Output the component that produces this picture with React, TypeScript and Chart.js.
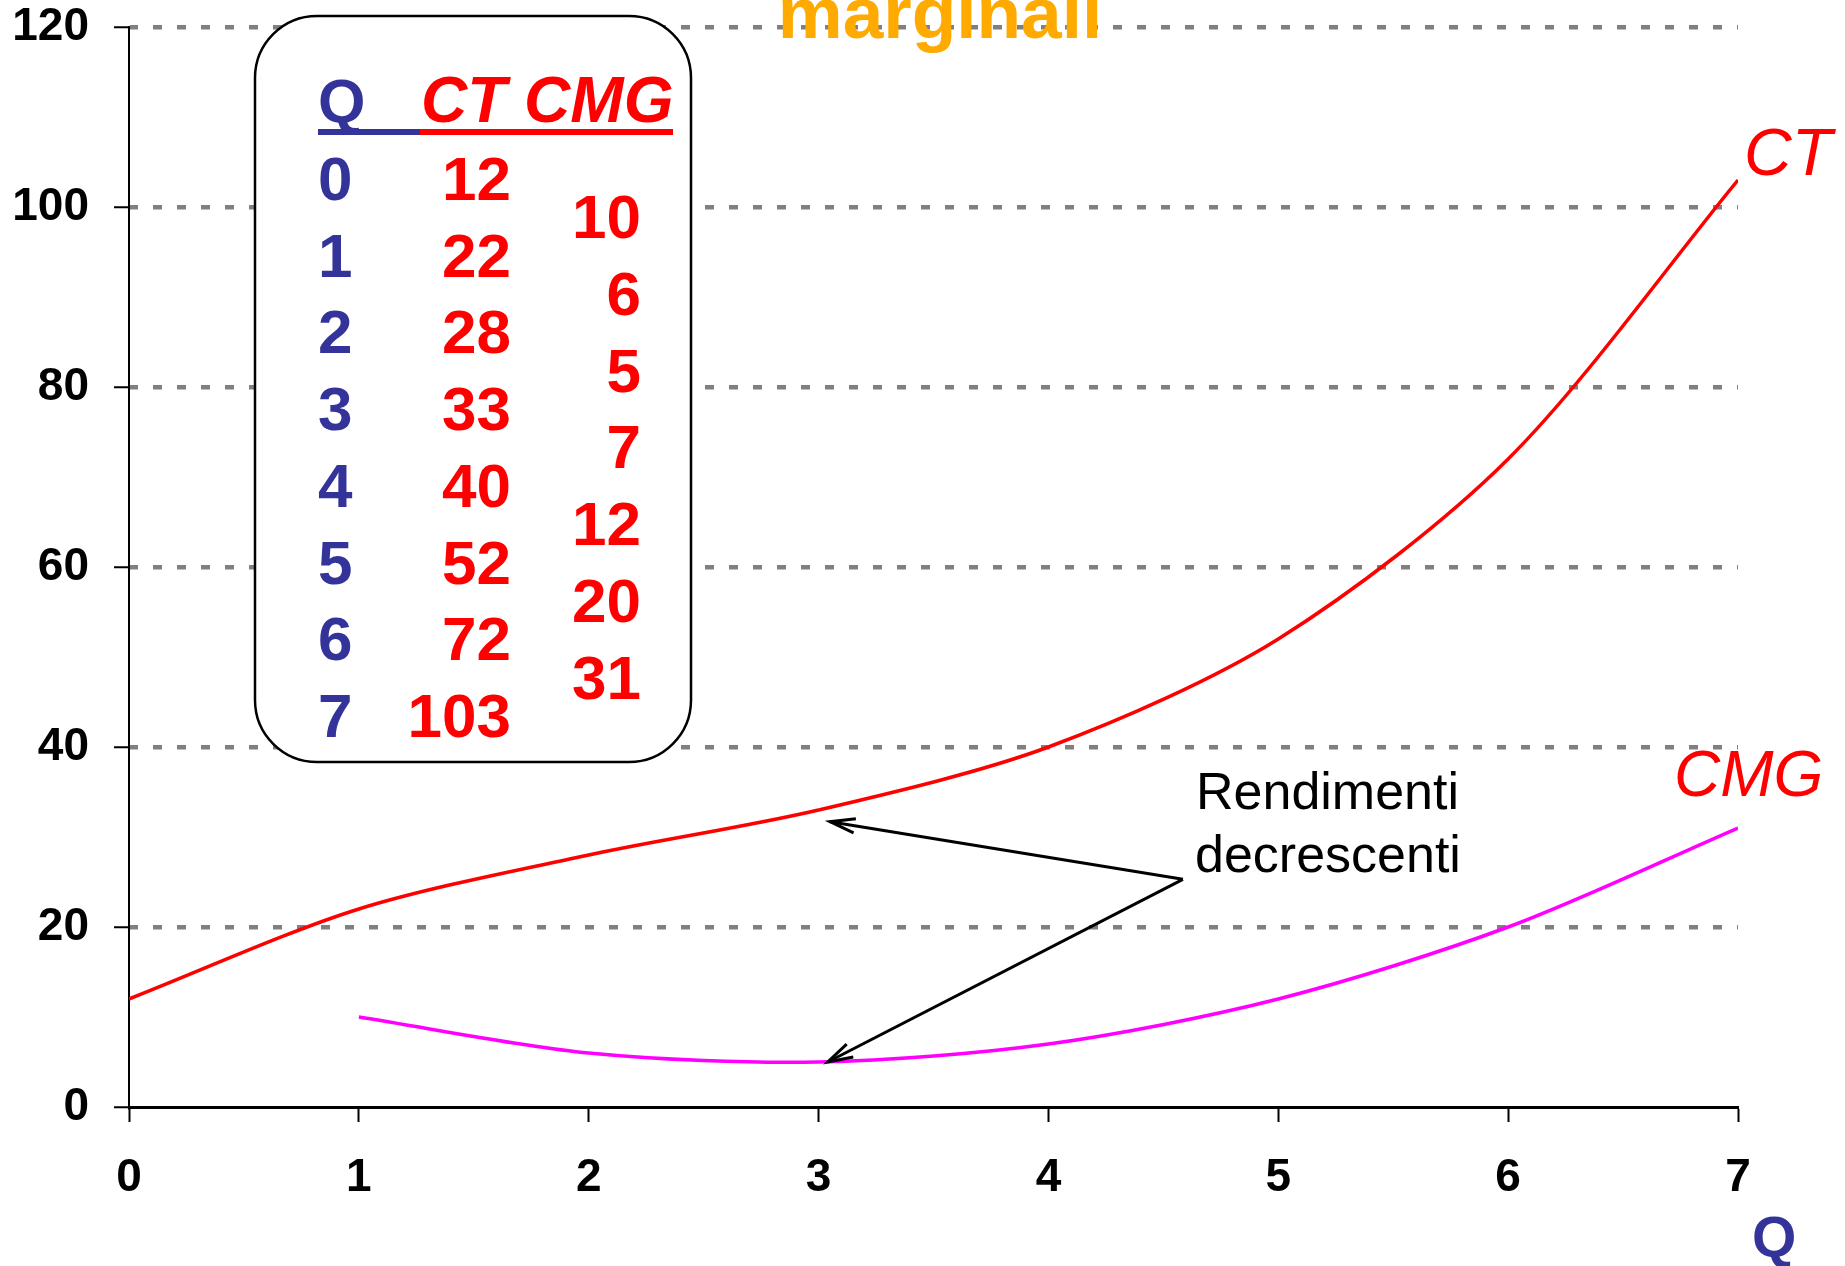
import React, { useEffect, useRef } from "react";
import { Chart, registerables } from "chart.js";

Chart.register(...registerables);

// ---- data ----
const Q = [0, 1, 2, 3, 4, 5, 6, 7];
const CT = [12, 22, 28, 33, 40, 52, 72, 103];
const CMG_Q = [1, 2, 3, 4, 5, 6, 7];
const CMG = [10, 6, 5, 7, 12, 20, 31];
const Y_MIN = 0;
const Y_MAX = 120;
const Y_STEP = 20;
const X_MIN = 0;
const X_MAX = 7;
const TITLE = "marginali";
const NOTE_LINES = ["Rendimenti", "decrescenti"];
const ARROW_FROM = { x: 4.585, y: 25.3 };
const ARROW_TIPS = [
  { x: 3.05, y: 31.7 },
  { x: 3.04, y: 5.0 },
];
const HEAD_Q = "Q";
const HEAD_CT_CMG = "CT CMG";
const LABEL_CT = "CT";
const LABEL_CMG = "CMG";
const AXIS_TITLE = "Q";

const FONT = '"Liberation Sans", Arial, Helvetica, sans-serif';
const RED = "#FF0000";
const MAGENTA = "#FF00FF";
const BLUE = "#333399";
const ORANGE = "#FFAA00";
const GRID = "#808080";

function drawArrow(ctx: CanvasRenderingContext2D, x0: number, y0: number, x1: number, y1: number) {
  ctx.beginPath();
  ctx.moveTo(x0, y0);
  ctx.lineTo(x1, y1);
  ctx.stroke();
  const ang = Math.atan2(y0 - y1, x0 - x1);
  const len = 26;
  const spread = (16 * Math.PI) / 180;
  ctx.beginPath();
  ctx.moveTo(x1 + len * Math.cos(ang - spread), y1 + len * Math.sin(ang - spread));
  ctx.lineTo(x1, y1);
  ctx.lineTo(x1 + len * Math.cos(ang + spread), y1 + len * Math.sin(ang + spread));
  ctx.stroke();
}

const overlayPlugin = {
  id: "overlay",
  afterDraw(chart: any) {
    const ctx: CanvasRenderingContext2D = chart.ctx;
    const xs = chart.scales.x;
    const ys = chart.scales.y;
    ctx.save();

    // title (partially cut at the top)
    ctx.fillStyle = ORANGE;
    ctx.font = `bold 73px ${FONT}`;
    ctx.textAlign = "center";
    ctx.textBaseline = "alphabetic";
    ctx.fillText(TITLE, 940, 38);

    // table box
    ctx.beginPath();
    (ctx as any).roundRect(255, 16, 436, 746, 62);
    ctx.fillStyle = "#ffffff";
    ctx.fill();
    ctx.lineWidth = 2.5;
    ctx.strokeStyle = "#000000";
    ctx.stroke();

    // header
    ctx.textAlign = "left";
    ctx.fillStyle = BLUE;
    ctx.font = `bold 61px ${FONT}`;
    ctx.fillText(HEAD_Q, 318, 122);
    ctx.fillStyle = RED;
    ctx.font = `italic bold 64px ${FONT}`;
    ctx.fillText(HEAD_CT_CMG, 421, 122);
    ctx.fillStyle = BLUE;
    ctx.fillRect(318, 129, 102, 6);
    ctx.fillStyle = RED;
    ctx.fillRect(420, 129, 253, 6);

    // rows
    const rowH = 76.7;
    const base0 = 200;
    ctx.font = `bold 62px ${FONT}`;
    Q.forEach((q, i) => {
      ctx.textAlign = "left";
      ctx.fillStyle = BLUE;
      ctx.fillText(String(q), 318, base0 + rowH * i);
      ctx.textAlign = "right";
      ctx.fillStyle = RED;
      ctx.fillText(String(CT[i]), 511, base0 + rowH * i);
    });
    CMG.forEach((v, i) => {
      ctx.textAlign = "right";
      ctx.fillStyle = RED;
      ctx.fillText(String(v), 641, base0 + rowH / 2 + rowH * i);
    });

    // series labels
    ctx.textAlign = "left";
    ctx.fillStyle = RED;
    ctx.font = `italic 66px ${FONT}`;
    ctx.fillText(LABEL_CT, xs.getPixelForValue(X_MAX) + 6, ys.getPixelForValue(CT[CT.length - 1]) - 5);
    ctx.font = `italic 64px ${FONT}`;
    ctx.fillText(LABEL_CMG, xs.getPixelForValue(X_MAX) - 64, ys.getPixelForValue(CMG[CMG.length - 1]) - 32);

    // axis title
    ctx.fillStyle = BLUE;
    ctx.font = `bold 57px ${FONT}`;
    ctx.fillText(AXIS_TITLE, 1752, 1257);

    // note text
    ctx.fillStyle = "#000000";
    ctx.font = `52px ${FONT}`;
    ctx.fillText(NOTE_LINES[0], 1196, 809);
    ctx.fillText(NOTE_LINES[1], 1195, 872);

    // arrows
    ctx.strokeStyle = "#000000";
    ctx.lineWidth = 3;
    ctx.lineJoin = "miter";
    const fx = xs.getPixelForValue(ARROW_FROM.x);
    const fy = ys.getPixelForValue(ARROW_FROM.y);
    ARROW_TIPS.forEach((t) => {
      drawArrow(ctx, fx, fy, xs.getPixelForValue(t.x), ys.getPixelForValue(t.y));
    });

    ctx.restore();
  },
};

export default function App() {
  const ref = useRef<HTMLCanvasElement | null>(null);
  useEffect(() => {
    if (!ref.current) return;
    const chart = new Chart(ref.current, {
      type: "line",
      data: {
        datasets: [
          {
            label: "CT",
            data: Q.map((q, i) => ({ x: q, y: CT[i] })),
            borderColor: RED,
            borderWidth: 3.5,
            pointRadius: 0,
            tension: 0.3,
            fill: false,
          },
          {
            label: "CMG",
            data: CMG_Q.map((q, i) => ({ x: q, y: CMG[i] })),
            borderColor: MAGENTA,
            borderWidth: 3.5,
            pointRadius: 0,
            tension: 0.3,
            fill: false,
          },
        ],
      },
      options: {
        animation: false,
        responsive: true,
        maintainAspectRatio: false,
        devicePixelRatio: 1,
        layout: { padding: { top: 27, right: 107, left: 0, bottom: 0 } },
        plugins: {
          legend: { display: false },
          tooltip: { enabled: false },
          title: { display: false },
        },
        scales: {
          x: {
            type: "linear",
            min: X_MIN,
            max: X_MAX,
            afterFit: (s: any) => {
              s.height = 159;
            },
            ticks: {
              stepSize: 1,
              color: "#000",
              padding: 33,
              font: { family: FONT, size: 46, weight: "bold", lineHeight: 1 },
            },
            grid: {
              drawOnChartArea: false,
              drawTicks: true,
              tickLength: 15,
              tickColor: "#000",
              tickWidth: 2,
            },
            border: { display: true, color: "#000", width: 3 },
          },
          y: {
            min: Y_MIN,
            max: Y_MAX,
            afterFit: (s: any) => {
              s.width = 129;
            },
            ticks: {
              stepSize: Y_STEP,
              color: "#000",
              padding: 25,
              font: { family: FONT, size: 46, weight: "bold", lineHeight: 0.02 },
            },
            grid: {
              color: (c: any) => (c.tick && c.tick.value === 0 ? "rgba(0,0,0,0)" : GRID),
              lineWidth: 4.5,
              drawTicks: true,
              tickLength: 15,
              tickColor: "#000",
              tickWidth: 2,
              tickBorderDash: [],
            },
            border: { display: true, color: "#000", width: 2, dash: [9, 15], dashOffset: 1 },
          },
        },
      },
      plugins: [overlayPlugin],
    } as any);
    return () => chart.destroy();
  }, []);
  return (
    <div style={{ position: "absolute", left: 0, top: 0, width: 1845, height: 1266 }}>
      <canvas ref={ref} />
    </div>
  );
}
